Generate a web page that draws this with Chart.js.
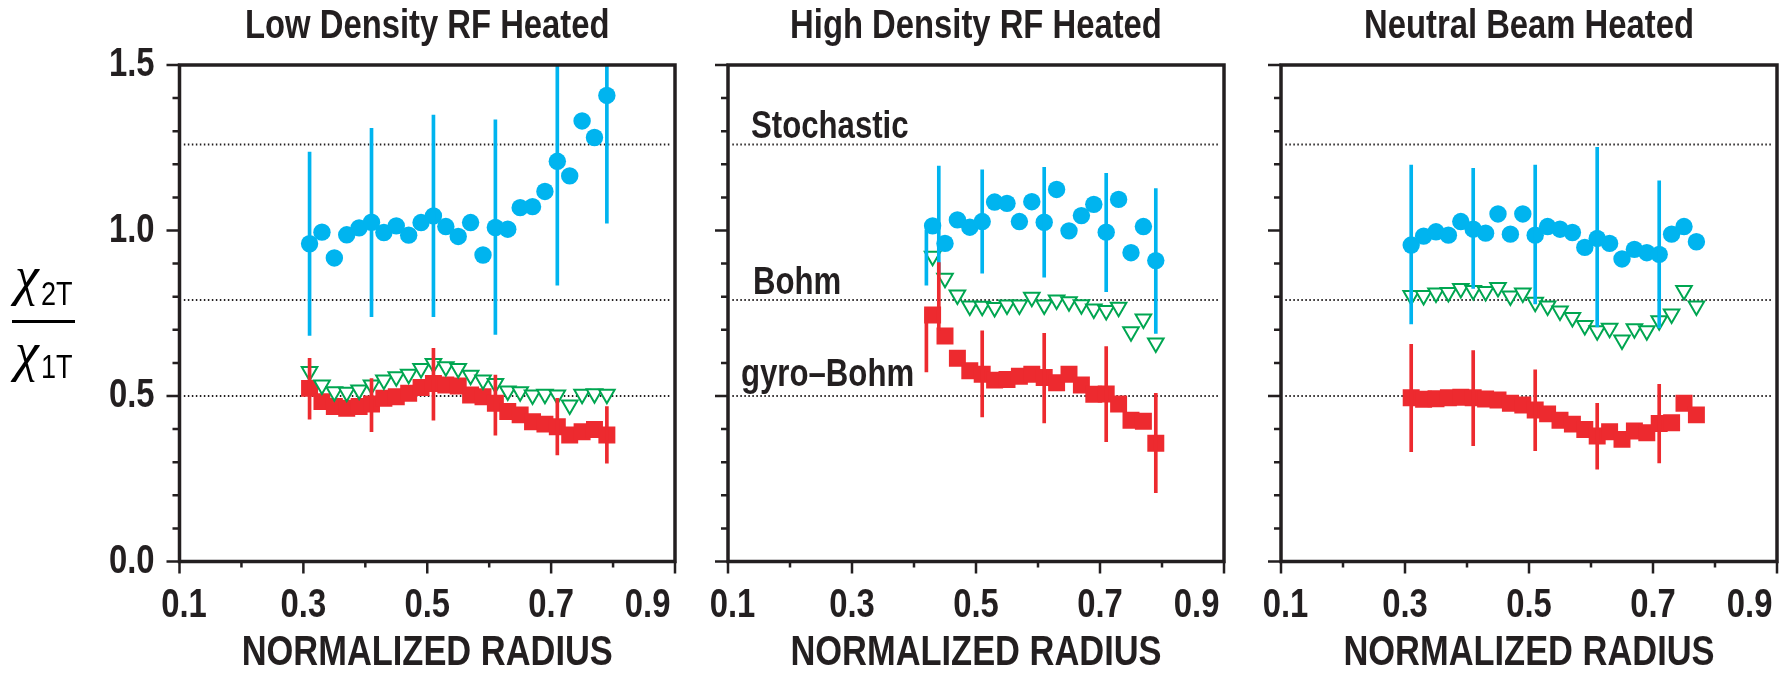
<!DOCTYPE html>
<html>
<head>
<meta charset="utf-8">
<script src="https://cdn.jsdelivr.net/npm/chart.js@4.4.1/dist/chart.umd.min.js"></script>
<style>
  html, body { margin: 0; padding: 0; background: #fff; }
  #wrap { position: relative; width: 1792px; height: 674px; overflow: hidden; }
  #wrap canvas { position: absolute; top: 0; }
</style>
</head>
<body>
<div id="wrap">
  <canvas id="low" width="705" height="674" style="left:0"></canvas>
  <canvas id="high" width="545" height="674" style="left:705px"></canvas>
  <canvas id="nb" width="542" height="674" style="left:1250px"></canvas>
</div>
<script>
// reference levels (dotted lines)
const refLevels = [1.26, 0.79, 0.50];
const refNames = ['Stochastic', 'Bohm', 'gyro\u2013Bohm'];
const refSpan = [0.107, 0.893];

// Low Density RF Heated
const lowX = [0.31, 0.33, 0.35, 0.37, 0.39, 0.41, 0.43, 0.45, 0.47, 0.49, 0.51, 0.53, 0.55, 0.57, 0.59, 0.61, 0.63, 0.65, 0.67, 0.69, 0.71, 0.73, 0.75, 0.77, 0.79];
const lowCircles = [0.960, 0.995, 0.917, 0.987, 1.008, 1.025, 0.994, 1.014, 0.986, 1.024, 1.044, 1.012, 0.982, 1.024, 0.926, 1.009, 1.004, 1.069, 1.072, 1.118, 1.209, 1.165, 1.331, 1.281, 1.408];
const lowTriangles = [0.574, 0.533, 0.513, 0.511, 0.518, 0.533, 0.548, 0.558, 0.566, 0.583, 0.598, 0.588, 0.583, 0.563, 0.548, 0.538, 0.515, 0.513, 0.503, 0.505, 0.503, 0.473, 0.505, 0.507, 0.505];
const lowSquares = [0.523, 0.483, 0.468, 0.463, 0.468, 0.476, 0.493, 0.498, 0.508, 0.526, 0.538, 0.533, 0.530, 0.503, 0.498, 0.478, 0.453, 0.443, 0.422, 0.415, 0.407, 0.382, 0.392, 0.399, 0.382];
const lowErrX = [0.31, 0.41, 0.51, 0.61, 0.71, 0.79];
const lowCircLo = [0.683, 0.740, 0.740, 0.686, 0.835, 1.022];
const lowCircHi = [1.237, 1.309, 1.349, 1.334, 1.600, 1.600];
const lowSqLo = [0.430, 0.392, 0.427, 0.382, 0.322, 0.297];
const lowSqHi = [0.614, 0.553, 0.644, 0.563, 0.493, 0.468];

// High Density RF Heated
const highX = [0.43, 0.45, 0.47, 0.49, 0.51, 0.53, 0.55, 0.57, 0.59, 0.61, 0.63, 0.65, 0.67, 0.69, 0.71, 0.73, 0.75, 0.77, 0.79];
const highCircles = [1.014, 0.961, 1.032, 1.010, 1.027, 1.086, 1.082, 1.027, 1.087, 1.025, 1.124, 0.999, 1.045, 1.079, 0.995, 1.094, 0.933, 1.012, 0.909];
const highTriangles = [0.922, 0.856, 0.805, 0.772, 0.771, 0.767, 0.775, 0.775, 0.798, 0.775, 0.790, 0.785, 0.776, 0.763, 0.758, 0.768, 0.694, 0.733, 0.660];
const highSquares = [0.745, 0.681, 0.614, 0.576, 0.566, 0.548, 0.550, 0.560, 0.566, 0.556, 0.540, 0.566, 0.533, 0.505, 0.506, 0.476, 0.427, 0.424, 0.357];
const highErrX = [0.42, 0.44, 0.51, 0.61, 0.71, 0.79];
const highCircLo = [0.835, 0.872, 0.871, 0.859, 0.815, 0.689];
const highCircHi = [1.001, 1.195, 1.183, 1.191, 1.173, 1.127];
const highSqLo = [0.573, 0.700, 0.437, 0.419, 0.362, 0.208];
const highSqHi = [0.761, 0.903, 0.697, 0.689, 0.649, 0.508];

// Neutral Beam Heated
const nbX = [0.31, 0.33, 0.35, 0.37, 0.39, 0.41, 0.43, 0.45, 0.47, 0.49, 0.51, 0.53, 0.55, 0.57, 0.59, 0.61, 0.63, 0.65, 0.67, 0.69, 0.71, 0.73, 0.75, 0.77];
const nbCircles = [0.956, 0.983, 0.996, 0.986, 1.027, 1.004, 0.992, 1.050, 0.989, 1.050, 0.986, 1.012, 1.004, 0.994, 0.949, 0.976, 0.961, 0.914, 0.943, 0.933, 0.928, 0.989, 1.012, 0.966];
const nbTriangles = [0.804, 0.804, 0.811, 0.813, 0.825, 0.819, 0.816, 0.828, 0.802, 0.811, 0.783, 0.772, 0.757, 0.737, 0.713, 0.697, 0.705, 0.669, 0.703, 0.697, 0.727, 0.748, 0.819, 0.772];
const nbSquares = [0.495, 0.490, 0.492, 0.495, 0.496, 0.495, 0.491, 0.488, 0.478, 0.473, 0.458, 0.446, 0.427, 0.415, 0.399, 0.379, 0.392, 0.369, 0.394, 0.389, 0.417, 0.419, 0.478, 0.443];
const nbErrX = [0.31, 0.41, 0.51, 0.61, 0.71];
const nbCircLo = [0.718, 0.825, 0.778, 0.709, 0.706];
const nbCircHi = [1.198, 1.188, 1.198, 1.251, 1.150];
const nbSqLo = [0.332, 0.350, 0.335, 0.279, 0.298];
const nbSqHi = [0.656, 0.637, 0.579, 0.478, 0.535];

const ink = '#231f20';
const blue = '#00b4ef';
const red = '#ed2a2f';
const green = '#00a651';
const narrow = '"Liberation Sans", Arial, sans-serif';
const squeeze = 0.82; // the figure is set in a narrow sans

const pts = (xs, ys) => xs.map((x, i) => ({ x: x, y: ys[i] }));
const spans = (xs, lo, hi) => xs.map((x, i) => ({ x: x, y: [lo[i], hi[i]] }));

// draw sans text horizontally condensed, like Helvetica Narrow
const narrowText = {
  id: 'narrowText',
  beforeInit(chart) {
    const ctx = chart.ctx;
    const fill = ctx.fillText.bind(ctx);
    ctx.fillText = function (text, x, y, maxWidth) {
      if (ctx.font.indexOf('Liberation Sans') < 0) {
        return maxWidth === undefined ? fill(text, x, y) : fill(text, x, y, maxWidth);
      }
      ctx.save();
      ctx.translate(x, y);
      ctx.scale(squeeze, 1);
      if (maxWidth === undefined) fill(text, 0, 0);
      else fill(text, 0, 0, maxWidth / squeeze);
      ctx.restore();
    };
  }
};

// frame round the plot and the small outside ticks
const frameTicks = {
  id: 'frameTicks',
  afterDraw(chart) {
    const { ctx, chartArea: a, scales: { x, y } } = chart;
    ctx.save();
    ctx.strokeStyle = ink;
    ctx.lineWidth = 2.5;
    ctx.beginPath();
    for (let i = 0; i <= 15; i++) {
      const py = y.getPixelForValue(i / 10);
      const len = i % 5 === 0 ? 13 : 7;
      ctx.moveTo(a.left - len, py);
      ctx.lineTo(a.left, py);
    }
    for (let i = 1; i <= 9; i++) {
      const px = x.getPixelForValue(i / 10);
      const len = i % 2 === 1 ? 12 : 6;
      ctx.moveTo(px, a.bottom);
      ctx.lineTo(px, a.bottom + len);
    }
    ctx.stroke();
    ctx.lineWidth = 3.5;
    ctx.strokeRect(a.left, a.top, a.right - a.left, a.bottom - a.top);
    ctx.restore();
  }
};

// names of the dotted levels, middle panel only
const refText = {
  id: 'refText',
  afterDatasetsDraw(chart, args, opts) {
    if (!opts.show) return;
    const { ctx, chartArea: a, scales: { y } } = chart;
    const dx = [23, 25, 13];
    const dy = [6, 6, 10];
    ctx.save();
    ctx.fillStyle = ink;
    ctx.font = 'bold 38px ' + narrow;
    ctx.textAlign = 'left';
    ctx.textBaseline = 'alphabetic';
    refNames.forEach((name, i) => {
      ctx.fillText(name, a.left + dx[i], y.getPixelForValue(refLevels[i]) - dy[i]);
    });
    ctx.restore();
  }
};

// chi_2T / chi_1T label, left panel only
const ratioLabel = {
  id: 'ratioLabel',
  afterDraw(chart, args, opts) {
    if (!opts.show) return;
    const ctx = chart.ctx;
    ctx.save();
    ctx.fillStyle = '#000';
    ctx.textAlign = 'left';
    ctx.textBaseline = 'alphabetic';
    ctx.font = 'italic 54px "Liberation Serif", serif';
    ctx.fillText('\u03c7', 15, 294);
    ctx.fillText('\u03c7', 15, 370);
    ctx.font = '33px ' + narrow;
    ctx.fillText('2T', 41, 305);
    ctx.fillText('1T', 41, 378);
    ctx.fillRect(12, 320, 63, 3);
    ctx.restore();
  }
};

function makePanel(id, title, xs, circles, triangles, squares, errX, cLo, cHi, sLo, sHi, yWidth, padRight, first) {
  const datasets = refLevels.map(v => ({
    type: 'line',
    data: [{ x: refSpan[0], y: v }, { x: refSpan[1], y: v }],
    borderColor: ink,
    borderWidth: 2,
    borderDash: [1.5, 2.5],
    pointRadius: 0,
    order: 10
  }));
  datasets.push({
    type: 'scatter', data: pts(xs, squares),
    pointStyle: 'rect', pointRadius: 12,
    pointBackgroundColor: red, pointBorderWidth: 0, order: 8
  });
  datasets.push({
    type: 'scatter', data: pts(xs, triangles),
    pointStyle: 'triangle', pointRotation: 180, pointRadius: 9,
    pointBackgroundColor: '#fff', pointBorderColor: green, pointBorderWidth: 2, order: 6
  });
  datasets.push({
    type: 'scatter', data: pts(xs, circles),
    pointStyle: 'circle', pointRadius: 8.7,
    pointBackgroundColor: blue, pointBorderWidth: 0, order: 5
  });
  datasets.push({
    type: 'bar', data: spans(errX, cLo, cHi), backgroundColor: blue,
    grouped: false, barThickness: 3, maxBarThickness: 3, borderWidth: 0, clip: 0, order: 2
  });
  datasets.push({
    type: 'bar', data: spans(errX, sLo, sHi), backgroundColor: red,
    grouped: false, barThickness: 3, maxBarThickness: 3, borderWidth: 0, clip: 0, order: 1
  });

  const lastIdx = 4;
  return new Chart(document.getElementById(id), {
    type: 'scatter',
    data: { datasets: datasets },
    options: {
      responsive: false,
      animation: false,
      events: [],
      layout: { padding: { left: 0, right: padRight, top: 0, bottom: 0 } },
      plugins: {
        legend: { display: false },
        tooltip: { enabled: false },
        title: {
          display: true, text: title, color: ink, fullSize: false,
          font: { family: narrow, size: 40, weight: 'bold', lineHeight: 1.2 },
          padding: { top: 3, bottom: 14 }
        },
        refText: { show: id === 'high' },
        ratioLabel: { show: first }
      },
      scales: {
        x: {
          type: 'linear', min: 0.1, max: 0.9, offset: false,
          grid: { display: false, drawTicks: false },
          border: { display: false },
          ticks: {
            stepSize: 0.2, color: ink, padding: 20, maxRotation: 0, autoSkip: false,
            font: { family: narrow, size: 40, weight: 'bold', lineHeight: 1.2 },
            callback: (v, i) => {
              const s = v.toFixed(1);
              if (i === 0) return ' ' + s;
              if (i === lastIdx) return s + '      ';
              return s;
            }
          },
          title: {
            display: true, text: 'NORMALIZED RADIUS', color: ink,
            font: { family: narrow, size: 42, weight: 'bold', lineHeight: 1 },
            padding: 0
          },
          afterFit: s => { s.height = 112.5; s.paddingLeft = 0; s.paddingRight = 0; }
        },
        y: {
          type: 'linear', min: 0, max: 1.5,
          grid: { display: false, drawTicks: false },
          border: { display: false },
          ticks: {
            display: first, stepSize: 0.5, color: ink, padding: 25,
            font: { family: narrow, size: 40, weight: 'bold' },
            callback: v => v.toFixed(1)
          },
          afterFit: s => { s.width = yWidth; }
        }
      }
    },
    plugins: [narrowText, frameTicks, refText, ratioLabel]
  });
}

makePanel('low', 'Low Density RF Heated', lowX, lowCircles, lowTriangles, lowSquares,
  lowErrX, lowCircLo, lowCircHi, lowSqLo, lowSqHi, 179.5, 30, true);
makePanel('high', 'High Density RF Heated', highX, highCircles, highTriangles, highSquares,
  highErrX, highCircLo, highCircHi, highSqLo, highSqHi, 23, 26, false);
makePanel('nb', 'Neutral Beam Heated', nbX, nbCircles, nbTriangles, nbSquares,
  nbErrX, nbCircLo, nbCircHi, nbSqLo, nbSqHi, 31, 15, false);
</script>
</body>
</html>
